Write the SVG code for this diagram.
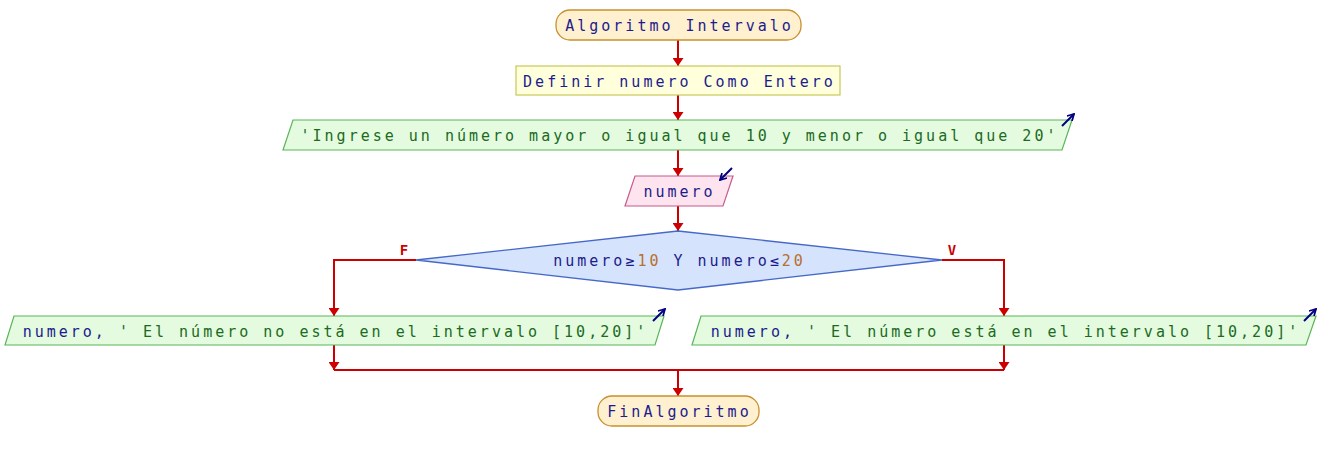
<svg xmlns="http://www.w3.org/2000/svg" width="1320" height="460" viewBox="0 0 1320 460">
<defs>
<style>
text{font-family:"DejaVu Sans Mono","Liberation Mono",monospace;font-size:15px;letter-spacing:3px;text-anchor:middle;fill:#1c1c8c}
.str{fill:#206a20}
.num{fill:#b8702c}
.term{fill:#fff0d0;stroke:#c8902f;stroke-width:1.3}
.proc{fill:#ffffdc;stroke:#c8c85a;stroke-width:1.2}
.out{fill:#e4fbe0;stroke:#5ab55a;stroke-width:1.2}
.in{fill:#fde4ef;stroke:#c85a8c;stroke-width:1.2}
.dec{fill:#d6e3fc;stroke:#4668c8;stroke-width:1.3}
.conn{fill:none;stroke:#cc0000;stroke-width:2}
.icon{fill:none;stroke:#000080;stroke-width:2}
.lbl{fill:#cc0000;font-weight:bold;letter-spacing:0;font-size:14px}
</style>
<marker id="ah" viewBox="0 0 8 11" refX="8" refY="5.5" markerWidth="8" markerHeight="11" orient="auto" markerUnits="userSpaceOnUse">
<path d="M0,0 L8,5.5 L0,11 z" fill="#cc0000"/>
</marker>
<marker id="ih" viewBox="0 0 10 10" refX="9" refY="5" markerWidth="8" markerHeight="8" orient="auto" markerUnits="userSpaceOnUse">
<path d="M1,0.5 L9,5 L1,9.5" fill="none" stroke="#000080" stroke-width="2.2"/>
</marker>
</defs>
<g id="connectors">
<path class="conn" d="M678,40 V66" marker-end="url(#ah)"/>
<path class="conn" d="M678,95 V120" marker-end="url(#ah)"/>
<path class="conn" d="M678,150 V176" marker-end="url(#ah)"/>
<path class="conn" d="M678,206 V231" marker-end="url(#ah)"/>
<path class="conn" d="M416,260 H334 V316" marker-end="url(#ah)"/>
<path class="conn" d="M942,260 H1004 V316" marker-end="url(#ah)"/>
<path class="conn" d="M334,345 V370" marker-end="url(#ah)"/>
<path class="conn" d="M1004,345 V370" marker-end="url(#ah)"/>
<path class="conn" d="M334,370 H1004"/>
<path class="conn" d="M678,370 V396" marker-end="url(#ah)"/>
<text class="lbl" x="404" y="255">F</text>
<text class="lbl" x="952" y="255">V</text>
</g>
<g id="start">
<rect class="term" x="556" y="10" width="245" height="30" rx="14"/>
<text x="679.5" y="31">Algoritmo Intervalo</text>
</g>
<g id="define">
<rect class="proc" x="516" y="66" width="324" height="29"/>
<text x="679.5" y="86.5">Definir numero Como Entero</text>
</g>
<g id="output1">
<polygon class="out" points="293,120 1072,120 1062,150 283,150"/>
<text class="str" x="679.5" y="141">'Ingrese un número mayor o igual que 10 y menor o igual que 20'</text>
<path class="icon" d="M1062,126 L1074,114" marker-end="url(#ih)"/>
</g>
<g id="input">
<polygon class="in" points="635,176 733,176 723,206 625,206"/>
<text x="679.5" y="197">numero</text>
<path class="icon" d="M732,168 L720,180" marker-end="url(#ih)"/>
</g>
<g id="decision">
<polygon class="dec" points="678,231 942,260 678,290 416,260"/>
<text x="679.5" y="266">numero≥<tspan class="num">10</tspan> Y numero≤<tspan class="num">20</tspan></text>
</g>
<g id="outputF">
<polygon class="out" points="14,316 664,316 655,345 5,345"/>
<text x="335.5" y="336.5">numero,<tspan class="str"> ' El número no está en el intervalo [10,20]'</tspan></text>
<path class="icon" d="M653,321 L665,309" marker-end="url(#ih)"/>
</g>
<g id="outputV">
<polygon class="out" points="701,316 1316,316 1306,345 692,345"/>
<text x="1005.5" y="336.5">numero,<tspan class="str"> ' El número está en el intervalo [10,20]'</tspan></text>
<path class="icon" d="M1304,321 L1316,309" marker-end="url(#ih)"/>
</g>
<g id="end">
<rect class="term" x="598" y="396" width="161" height="30" rx="14"/>
<text x="679.5" y="416.5">FinAlgoritmo</text>
</g>
</svg>
